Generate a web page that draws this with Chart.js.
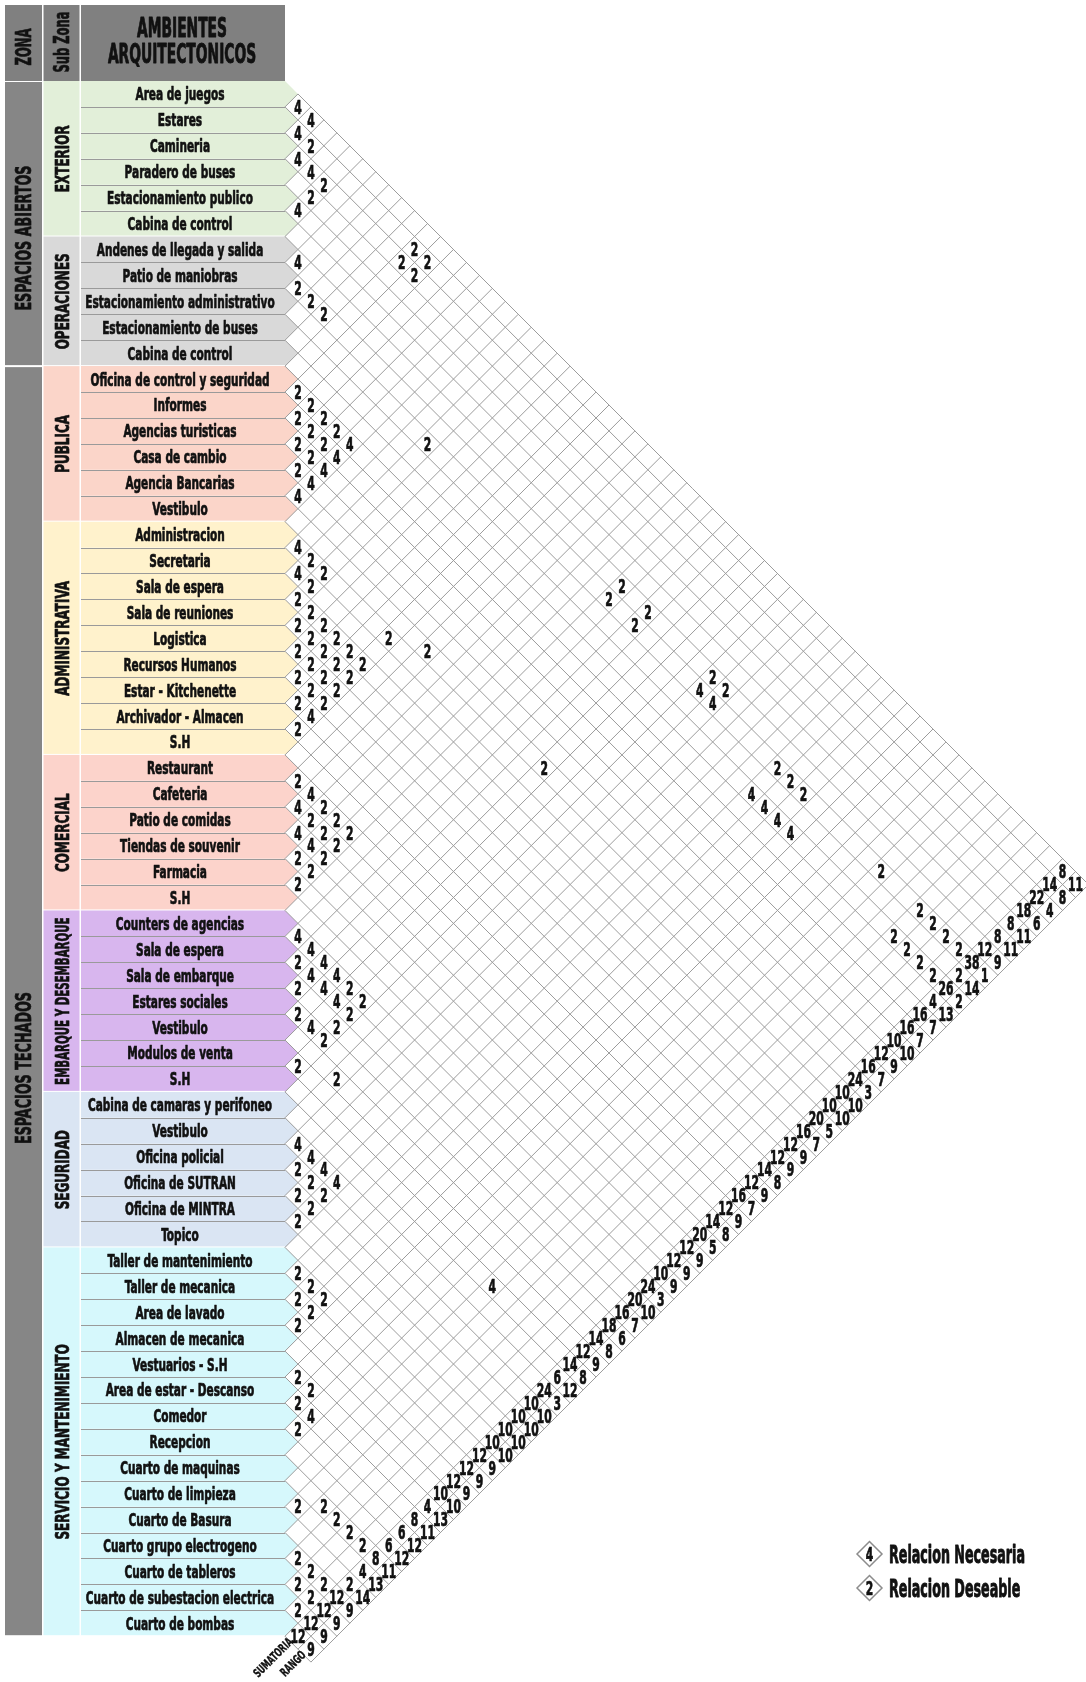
<!DOCTYPE html>
<html>
<head>
<meta charset="utf-8">
<title>Matriz de relaciones</title>
<script src="https://cdn.jsdelivr.net/npm/chart.js@4.4.1/dist/chart.umd.min.js"></script>
<style>
  html, body { margin: 0; padding: 0; background: #fff; }
  canvas { display: block; }
</style>
</head>
<body>
<canvas id="matriz" width="1086" height="1682"></canvas>
<script>
//---------------------- Datos ------------------------------------------

const ambientes = [
  "Area de juegos", "Estares", "Camineria", "Paradero de buses", "Estacionamiento publico", "Cabina de control",
  "Andenes de llegada y salida", "Patio de maniobras", "Estacionamiento administrativo", "Estacionamiento de buses", "Cabina de control",
  "Oficina de control y seguridad", "Informes", "Agencias turisticas", "Casa de cambio", "Agencia Bancarias", "Vestibulo",
  "Administracion", "Secretaria", "Sala de espera", "Sala de reuniones", "Logistica", "Recursos Humanos", "Estar - Kitchenette", "Archivador - Almacen", "S.H",
  "Restaurant", "Cafeteria", "Patio de comidas", "Tiendas de souvenir", "Farmacia", "S.H",
  "Counters de agencias", "Sala de espera", "Sala de embarque", "Estares sociales", "Vestibulo", "Modulos de venta", "S.H",
  "Cabina de camaras y perifoneo", "Vestibulo", "Oficina policial", "Oficina de SUTRAN", "Oficina de MINTRA", "Topico",
  "Taller de mantenimiento", "Taller de mecanica", "Area de lavado", "Almacen de mecanica", "Vestuarios - S.H", "Area de estar - Descanso",
  "Comedor", "Recepcion", "Cuarto de maquinas", "Cuarto de limpieza", "Cuarto de Basura", "Cuarto grupo electrogeno",
  "Cuarto de tableros", "Cuarto de subestacion electrica", "Cuarto de bombas"
];

const subZonas = ["EXTERIOR", "OPERACIONES", "PUBLICA", "ADMINISTRATIVA", "COMERCIAL", "EMBARQUE Y DESEMBARQUE", "SEGURIDAD", "SERVICIO Y MANTENIMIENTO"];
const ambientesPorSubZona = [6, 5, 6, 9, 6, 7, 6, 15];

const zonas = ["ESPACIOS ABIERTOS", "ESPACIOS TECHADOS"];
const subZonasPorZona = [2, 6];

// pares [fila, fila] con relacion necesaria (4)
const relNecesaria = [
  [0,1],[0,2],[1,2],[2,3],[2,4],[4,5],[6,7],[7,39],[7,40],[9,45],[9,46],[9,47],[9,48],
  [11,16],[12,16],[13,16],[14,16],[15,16],[17,18],[18,19],[23,25],
  [26,28],[27,28],[28,29],[28,30],[32,33],[32,34],[32,35],[32,36],[33,35],[33,36],[33,37],[35,37],
  [38,54],[40,41],[40,42],[40,43],[40,44],[50,52]
];

// pares [fila, fila] con relacion deseable (2)
const relDeseable = [
  [1,3],[1,11],[1,12],[2,5],[2,11],[2,12],[3,5],
  [6,32],[6,34],[6,39],[6,40],
  [7,8],[7,9],[7,10],[7,32],[7,34],[7,45],[7,46],[7,47],[7,53],[7,56],[7,57],[7,58],[7,59],
  [8,19],[9,56],[9,57],[9,58],[9,59],
  [11,12],[11,13],[11,14],[11,15],[12,13],[12,14],[12,15],[13,14],[13,15],[14,15],
  [16,27],[16,36],
  [17,19],[17,20],[17,25],[18,20],[19,20],[19,21],[19,22],[19,23],[19,24],[19,25],
  [20,21],[20,22],[20,23],[20,24],[20,25],[21,22],[21,23],[21,24],[21,25],
  [22,23],[22,24],[22,25],[23,24],[24,25],
  [26,27],[26,29],[26,30],[26,31],[27,29],[27,30],[27,31],[28,31],[29,30],[29,31],[30,31],
  [32,37],[32,38],[33,34],[33,38],[34,35],[34,38],[35,36],[35,38],[36,40],[37,38],
  [41,42],[41,43],[41,44],[42,43],[42,44],[43,44],
  [45,46],[45,47],[45,48],[46,47],[46,48],[47,48],
  [49,50],[49,51],[50,51],[51,52],
  [53,56],[53,57],[53,58],[53,59],[54,55],[56,57],[56,58],[56,59],[57,58],[57,59],[58,59]
];

const sumatoria = [
  8, 14, 22, 18, 8, 8, 12, 38, 2, 26, 4,
  16, 16, 10, 12, 16, 24,
  10, 10, 20, 16, 12, 12, 14, 12, 16,
  12, 14, 20, 12, 12, 10,
  24, 20, 16, 18, 14, 12, 14,
  6, 24, 10, 10, 10, 10,
  12, 12, 12, 10, 4, 8, 6, 6, 8, 4, 2, 12, 12, 12, 12
];

const rango = [
  11, 8, 4, 6, 11, 11, 9, 1, 14, 2, 13,
  7, 7, 10, 9, 7, 3,
  10, 10, 5, 7, 9, 9, 8, 9, 7,
  9, 8, 5, 9, 9, 9,
  3, 10, 7, 6, 8, 9, 8,
  12, 3, 10, 10, 10, 10,
  9, 9, 9, 10, 13, 11, 12, 12, 11, 13, 14, 9, 9, 9, 9
];

//---------------------- Estilo ------------------------------------------

const W = 1086, H = 1682;
const TOP = 81, FILA = 25.92, X0 = 285;          // tabla y rombos
const MEDIO = FILA / 2;                          // media diagonal del rombo
const FUENTE = "'Liberation Sans Narrow', 'DejaVu Sans Condensed', 'Roboto', sans-serif";
const coloresSubZona = ["#e2efd9", "#d9d9d9", "#fbd5c9", "#fff2cc", "#fcd3cb", "#d8b6ee", "#dae5f3", "#d6f8fc"];
const GRIS_CAB = "#808080";
const LINEA = "#9c9c9c";

function texto(ctx, txt, x, y, size, sx, opt) {
  opt = opt || {};
  ctx.save();
  ctx.translate(x, y);
  if (opt.rot) ctx.rotate(opt.rot);
  ctx.scale(sx, 1);
  ctx.font = "bold " + size + "px " + FUENTE;
  ctx.textAlign = opt.align || "center";
  ctx.textBaseline = "alphabetic";
  ctx.fillStyle = opt.color || "#111";
  ctx.strokeStyle = opt.color || "#111";
  ctx.lineWidth = opt.peso === undefined ? 0.7 : opt.peso;
  ctx.lineJoin = "round";
  ctx.fillText(txt, 0, size * 0.36);
  if (ctx.lineWidth > 0) ctx.strokeText(txt, 0, size * 0.36);
  ctx.restore();
}

function escala(ctx, size, ref, ancho) {
  ctx.font = "bold " + size + "px " + FUENTE;
  return ancho / ctx.measureText(ref).width;
}

// ------------------- tabla de ambientes + reticula ---------------------
const tablaPlugin = {
  id: "tabla",
  beforeDatasetsDraw(chart) {
    const ctx = chart.ctx;
    const sx = chart.scales.x, sy = chart.scales.y;
    const py = v => sy.getPixelForValue(v);
    const px = v => sx.getPixelForValue(v);
    const n = ambientes.length;
    const izq = 5, c1 = 42, c2 = 80, c3 = 81;

    ctx.save();
    ctx.fillStyle = "#fff";
    ctx.fillRect(0, 0, W, H);

    // cabecera
    ctx.fillStyle = GRIS_CAB;
    ctx.fillRect(izq, 5, X0 - izq, TOP - 5);
    ctx.fillStyle = "#fff";
    ctx.fillRect(c1, 5, 1.5, TOP - 5);
    ctx.fillRect(c2 - 0.5, 5, 1.5, TOP - 5);
    const sCab = escala(ctx, 27, "AMBIENTES", 90);
    texto(ctx, "AMBIENTES", 182, 27, 27, sCab, {peso: 0.9});
    texto(ctx, "ARQUITECTONICOS", 182, 53, 27, sCab, {peso: 0.9});
    const sZ = escala(ctx, 21, "ZONA", 37);
    texto(ctx, "ZONA", 23.5, 47, 21, sZ, {rot: -Math.PI / 2});
    const sSZ = escala(ctx, 21, "Sub Zona", 61);
    texto(ctx, "Sub Zona", 61.5, 42, 21, sSZ, {rot: -Math.PI / 2});

    // filas de ambientes
    const sAmb = escala(ctx, 18, "Area de juegos", 89);
    let fila = 0;
    subZonas.forEach((sz, k) => {
      const color = coloresSubZona[k];
      const ini = fila, fin = fila + ambientesPorSubZona[k];
      for (let r = ini; r < fin; r++) {
        const y0 = py(r), y1 = py(r + 1);
        ctx.fillStyle = color;
        ctx.beginPath();
        ctx.moveTo(c3, y0);
        ctx.lineTo(X0, y0);
        ctx.lineTo(X0 + MEDIO, (y0 + y1) / 2);
        ctx.lineTo(X0, y1);
        ctx.lineTo(c3, y1);
        ctx.closePath();
        ctx.fill();
        if (r > ini) {
          ctx.strokeStyle = "#9a9a9a";
          ctx.lineWidth = 1;
          ctx.beginPath();
          ctx.moveTo(c3, Math.round(y0) + 0.5);
          ctx.lineTo(X0, Math.round(y0) + 0.5);
          ctx.stroke();
        }
        texto(ctx, ambientes[r], 180, (y0 + y1) / 2, 18, sAmb);
      }
      // columna sub zona
      const ys0 = py(ini), ys1 = py(fin);
      ctx.fillStyle = color;
      ctx.fillRect(c1 + 1.5, ys0, c2 - c1 - 2, ys1 - ys0);
      let s = escala(ctx, 20, "EXTERIOR", 67);
      ctx.font = "bold 20px " + FUENTE;
      const largo = ctx.measureText(sz).width * s;
      if (largo > ys1 - ys0 - 14) s *= (ys1 - ys0 - 14) / largo;
      texto(ctx, sz, 61.5, (ys0 + ys1) / 2, 20, s, {rot: -Math.PI / 2});
      // separacion blanca entre sub zonas
      ctx.fillStyle = "#fff";
      ctx.fillRect(c1, ys1 - 1, X0 - c1, 2);
      fila = fin;
    });

    // columna zona
    const zonaCentro = [6.06, 38.08];
    let sub = 0;
    zonas.forEach((z, k) => {
      let r0 = 0;
      for (let q = 0; q < sub; q++) r0 += ambientesPorSubZona[q];
      let r1 = r0;
      for (let q = sub; q < sub + subZonasPorZona[k]; q++) r1 += ambientesPorSubZona[q];
      const y0 = py(r0), y1 = py(r1);
      ctx.fillStyle = "#868686";
      ctx.fillRect(izq, y0 + 1, c1 - izq, y1 - y0 - 2);
      const sZona = escala(ctx, 21, "ESPACIOS ABIERTOS", 145);
      texto(ctx, z, 23.5, py(zonaCentro[k]), 21, sZona, {rot: -Math.PI / 2});
      sub += subZonasPorZona[k];
    });

    // reticula de rombos (incluye sumatoria y rango)
    const jMax = n + 1;
    const P = (i, j) => [px(j - i), py((i + j + 1) / 2)];
    ctx.strokeStyle = LINEA;
    ctx.lineWidth = 1;
    ctx.beginPath();
    for (let k = 0; k <= n; k++) {
      const a = k - 0.5;
      const b0 = k === 0 ? 0.5 : k - 0.5;
      const p0 = P(a, b0), p1 = P(a, jMax + 0.5);
      ctx.moveTo(p0[0], p0[1]);
      ctx.lineTo(p1[0], p1[1]);
    }
    for (let m = 1; m <= jMax + 1; m++) {
      const b = m - 0.5;
      const p0 = P(-0.5, b), p1 = P(Math.min(m - 1, n - 1) + 0.5, b);
      ctx.moveTo(p0[0], p0[1]);
      ctx.lineTo(p1[0], p1[1]);
    }
    ctx.stroke();
    ctx.restore();
  }
};

// ------------------- numeros, rotulos y leyenda ------------------------
const etiquetasPlugin = {
  id: "etiquetas",
  afterDatasetsDraw(chart) {
    const ctx = chart.ctx;
    const sx = chart.scales.x, sy = chart.scales.y;
    const sNum = escala(ctx, 19, "0", 7.5);
    chart.data.datasets.forEach((ds, d) => {
      const meta = chart.getDatasetMeta(d);
      meta.data.forEach((el, k) => {
        texto(ctx, String(ds.data[k].t), el.x, el.y, 19, sNum);
      });
    });

    // rotulos de las columnas finales
    const n = ambientes.length;
    const ult = n - 1;
    const sR = escala(ctx, 12, "SUMATORIA", 50);
    [["SUMATORIA", n], ["RANGO", n + 1]].forEach(([t, j]) => {
      const x = sx.getPixelForValue(j - ult - 0.5);
      const y = sy.getPixelForValue((ult + j + 1) / 2 + 0.25);
      texto(ctx, t, x - 1, y - 3, 12, sR, {rot: -Math.PI / 4, align: "right", peso: 0.4});
    });

    // leyenda
    const sLey = escala(ctx, 24, "Relacion Necesaria", 136);
    [["4", "Relacion Necesaria", 1554], ["2", "Relacion Deseable", 1588]].forEach(([v, t, y]) => {
      const cx = 869.5;
      ctx.save();
      ctx.strokeStyle = "#8c8c8c";
      ctx.lineWidth = 1.5;
      ctx.fillStyle = "#fff";
      ctx.beginPath();
      ctx.moveTo(cx - 12.5, y);
      ctx.lineTo(cx, y - 12.5);
      ctx.lineTo(cx + 12.5, y);
      ctx.lineTo(cx, y + 12.5);
      ctx.closePath();
      ctx.fill();
      ctx.stroke();
      ctx.restore();
      texto(ctx, v, cx, y, 19, sNum);
      texto(ctx, t, 889, y, 24, sLey, {align: "left", peso: 0.9});
    });
  }
};

const punto = (i, j, t) => ({x: j - i, y: (i + j + 1) / 2, t: t});

new Chart(document.getElementById("matriz"), {
  type: "scatter",
  data: {
    datasets: [
      {label: "Relacion Necesaria", data: relNecesaria.map(([i, j]) => punto(i, j, 4)), pointRadius: 0},
      {label: "Relacion Deseable", data: relDeseable.map(([i, j]) => punto(i, j, 2)), pointRadius: 0},
      {label: "Sumatoria", data: sumatoria.map((s, i) => punto(i, ambientes.length, s)), pointRadius: 0},
      {label: "Rango", data: rango.map((r, i) => punto(i, ambientes.length + 1, r)), pointRadius: 0}
    ]
  },
  options: {
    responsive: false,
    animation: false,
    events: [],
    layout: {padding: 0},
    plugins: {
      legend: {display: false},
      tooltip: {enabled: false}
    },
    scales: {
      x: {type: "linear", display: false, min: -X0 / MEDIO, max: (W - X0) / MEDIO},
      y: {type: "linear", display: false, reverse: true, min: -TOP / FILA, max: (H - TOP) / FILA}
    }
  },
  plugins: [tablaPlugin, etiquetasPlugin]
});
</script>
</body>
</html>
